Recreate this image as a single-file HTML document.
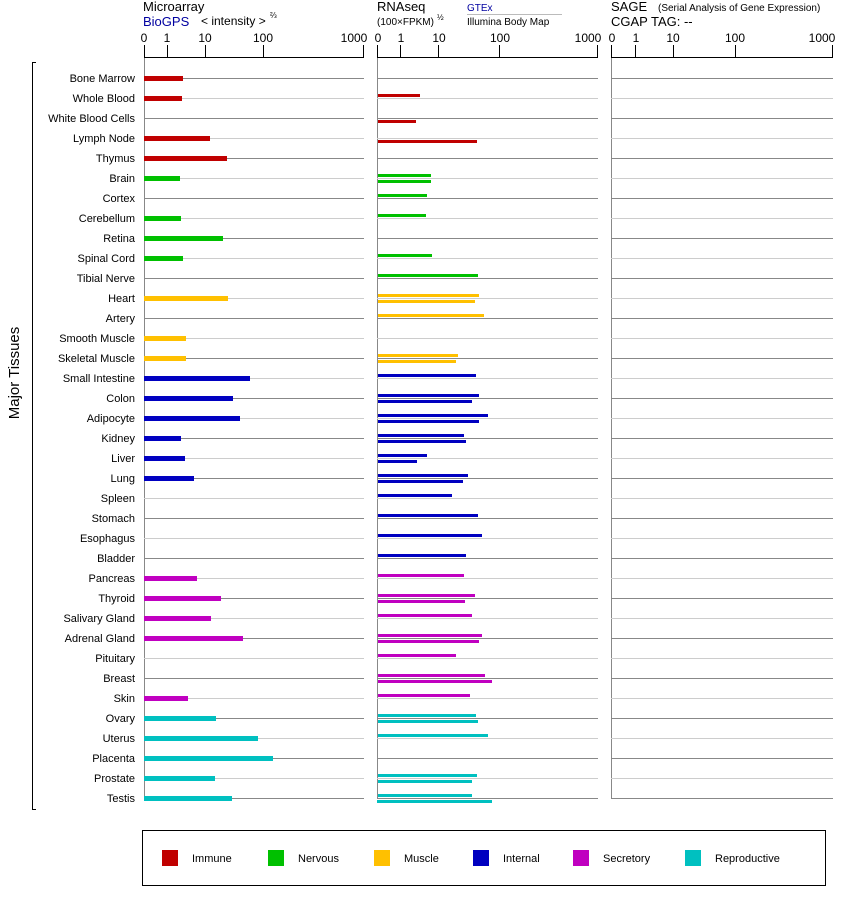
<!DOCTYPE html>
<html><head><meta charset="utf-8"><style>
body{margin:0;background:#fff}
svg{display:block;font-family:"Liberation Sans",sans-serif}
</style></head><body>
<svg width="842" height="900" viewBox="0 0 842 900" xmlns="http://www.w3.org/2000/svg">
<!-- headers -->
<g font-size="13" fill="#000">
<text x="143" y="11">Microarray</text>
<text x="143" y="26" fill="#0000a0">BioGPS</text>
<text x="201" y="25" font-size="12">&lt; intensity &gt;</text>
<text x="270" y="18" font-size="8">⅔</text>
<text x="377" y="11">RNAseq</text>
<text x="377" y="25" font-size="10">(100×FPKM)</text>
<text x="437" y="20" font-size="8">½</text>
<text x="467" y="11" font-size="10" fill="#0000a0">GTEx</text>
<line x1="467" y1="14.5" x2="562" y2="14.5" stroke="#bbb"/>
<text x="467" y="25" font-size="10">Illumina Body Map</text>
<text x="611" y="11">SAGE</text>
<text x="658" y="11" font-size="10">(Serial Analysis of Gene Expression)</text>
<text x="611" y="26">CGAP TAG:  --</text>
</g>
<!-- axes -->
<g font-size="12" text-anchor="middle" fill="#000">
<text x="144" y="42">0</text><text x="167" y="42">1</text><text x="205" y="42">10</text><text x="263" y="42">100</text><text x="354" y="42">1000</text>
<text x="378" y="42">0</text><text x="401" y="42">1</text><text x="439" y="42">10</text><text x="500" y="42">100</text><text x="588" y="42">1000</text>
<text x="612" y="42">0</text><text x="636" y="42">1</text><text x="673" y="42">10</text><text x="735" y="42">100</text><text x="822" y="42">1000</text>
</g>
<g stroke="#000" stroke-width="1">
<line x1="144" y1="57.5" x2="364" y2="57.5"/>
<line x1="144.5" y1="45" x2="144.5" y2="58"/><line x1="167.5" y1="45" x2="167.5" y2="58"/><line x1="205.5" y1="45" x2="205.5" y2="58"/><line x1="263.5" y1="45" x2="263.5" y2="58"/><line x1="363.5" y1="45" x2="363.5" y2="58"/>
<line x1="377" y1="57.5" x2="598" y2="57.5"/>
<line x1="377.5" y1="45" x2="377.5" y2="58"/><line x1="400.5" y1="45" x2="400.5" y2="58"/><line x1="438.5" y1="45" x2="438.5" y2="58"/><line x1="499.5" y1="45" x2="499.5" y2="58"/><line x1="597.5" y1="45" x2="597.5" y2="58"/>
<line x1="611" y1="57.5" x2="833" y2="57.5"/>
<line x1="611.5" y1="45" x2="611.5" y2="58"/><line x1="635.5" y1="45" x2="635.5" y2="58"/><line x1="673.5" y1="45" x2="673.5" y2="58"/><line x1="735.5" y1="45" x2="735.5" y2="58"/><line x1="832.5" y1="45" x2="832.5" y2="58"/>
</g>
<g stroke="#888"><line x1="144.5" y1="58" x2="144.5" y2="799"/><line x1="377.5" y1="58" x2="377.5" y2="799"/><line x1="611.5" y1="58" x2="611.5" y2="799"/></g>
<!-- row lines -->
<g id="rows">
<g stroke="#888"><line x1="144" y1="78.5" x2="364" y2="78.5"/><line x1="377" y1="78.5" x2="598" y2="78.5"/><line x1="611" y1="78.5" x2="833" y2="78.5"/></g>
</g>
<g stroke="#888">
<path d="M144 118.5H364M377 118.5H598M611 118.5H833 M144 158.5H364M377 158.5H598M611 158.5H833 M144 198.5H364M377 198.5H598M611 198.5H833 M144 238.5H364M377 238.5H598M611 238.5H833 M144 278.5H364M377 278.5H598M611 278.5H833 M144 318.5H364M377 318.5H598M611 318.5H833 M144 358.5H364M377 358.5H598M611 358.5H833 M144 398.5H364M377 398.5H598M611 398.5H833 M144 438.5H364M377 438.5H598M611 438.5H833 M144 478.5H364M377 478.5H598M611 478.5H833 M144 518.5H364M377 518.5H598M611 518.5H833 M144 558.5H364M377 558.5H598M611 558.5H833 M144 598.5H364M377 598.5H598M611 598.5H833 M144 638.5H364M377 638.5H598M611 638.5H833 M144 678.5H364M377 678.5H598M611 678.5H833 M144 718.5H364M377 718.5H598M611 718.5H833 M144 758.5H364M377 758.5H598M611 758.5H833 M144 798.5H364M377 798.5H598M611 798.5H833"/>
</g>
<g stroke="#ccc">
<path d="M144 98.5H364M377 98.5H598M611 98.5H833 M144 138.5H364M377 138.5H598M611 138.5H833 M144 178.5H364M377 178.5H598M611 178.5H833 M144 218.5H364M377 218.5H598M611 218.5H833 M144 258.5H364M377 258.5H598M611 258.5H833 M144 298.5H364M377 298.5H598M611 298.5H833 M144 338.5H364M377 338.5H598M611 338.5H833 M144 378.5H364M377 378.5H598M611 378.5H833 M144 418.5H364M377 418.5H598M611 418.5H833 M144 458.5H364M377 458.5H598M611 458.5H833 M144 498.5H364M377 498.5H598M611 498.5H833 M144 538.5H364M377 538.5H598M611 538.5H833 M144 578.5H364M377 578.5H598M611 578.5H833 M144 618.5H364M377 618.5H598M611 618.5H833 M144 658.5H364M377 658.5H598M611 658.5H833 M144 698.5H364M377 698.5H598M611 698.5H833 M144 738.5H364M377 738.5H598M611 738.5H833 M144 778.5H364M377 778.5H598M611 778.5H833"/>
</g>
<!-- labels -->
<g font-size="11" text-anchor="end" fill="#000">
<text x="135" y="82">Bone Marrow</text><text x="135" y="102">Whole Blood</text><text x="135" y="122">White Blood Cells</text><text x="135" y="142">Lymph Node</text><text x="135" y="162">Thymus</text><text x="135" y="182">Brain</text><text x="135" y="202">Cortex</text><text x="135" y="222">Cerebellum</text><text x="135" y="242">Retina</text><text x="135" y="262">Spinal Cord</text><text x="135" y="282">Tibial Nerve</text><text x="135" y="302">Heart</text><text x="135" y="322">Artery</text><text x="135" y="342">Smooth Muscle</text><text x="135" y="362">Skeletal Muscle</text><text x="135" y="382">Small Intestine</text><text x="135" y="402">Colon</text><text x="135" y="422">Adipocyte</text><text x="135" y="442">Kidney</text><text x="135" y="462">Liver</text><text x="135" y="482">Lung</text><text x="135" y="502">Spleen</text><text x="135" y="522">Stomach</text><text x="135" y="542">Esophagus</text><text x="135" y="562">Bladder</text><text x="135" y="582">Pancreas</text><text x="135" y="602">Thyroid</text><text x="135" y="622">Salivary Gland</text><text x="135" y="642">Adrenal Gland</text><text x="135" y="662">Pituitary</text><text x="135" y="682">Breast</text><text x="135" y="702">Skin</text><text x="135" y="722">Ovary</text><text x="135" y="742">Uterus</text><text x="135" y="762">Placenta</text><text x="135" y="782">Prostate</text><text x="135" y="802">Testis</text>
</g>
<path d="M36 62.5H32.5V809.5H36" fill="none" stroke="#000"/>
<text x="19" y="373" font-size="15" text-anchor="middle" transform="rotate(-90 19 373)">Major Tissues</text>
<!-- microarray bars -->
<g>
<g fill="#c00000"><rect x="144" y="76" width="39" height="5"/><rect x="144" y="96" width="38" height="5"/><rect x="144" y="136" width="66" height="5"/><rect x="144" y="156" width="83" height="5"/></g>
<g fill="#00c000"><rect x="144" y="176" width="36" height="5"/><rect x="144" y="216" width="37" height="5"/><rect x="144" y="236" width="79" height="5"/><rect x="144" y="256" width="39" height="5"/></g>
<g fill="#ffc000"><rect x="144" y="296" width="84" height="5"/><rect x="144" y="336" width="42" height="5"/><rect x="144" y="356" width="42" height="5"/></g>
<g fill="#0000c0"><rect x="144" y="376" width="106" height="5"/><rect x="144" y="396" width="89" height="5"/><rect x="144" y="416" width="96" height="5"/><rect x="144" y="436" width="37" height="5"/><rect x="144" y="456" width="41" height="5"/><rect x="144" y="476" width="50" height="5"/></g>
<g fill="#c000c0"><rect x="144" y="576" width="53" height="5"/><rect x="144" y="596" width="77" height="5"/><rect x="144" y="616" width="67" height="5"/><rect x="144" y="636" width="99" height="5"/><rect x="144" y="696" width="44" height="5"/></g>
<g fill="#00c0c0"><rect x="144" y="716" width="72" height="5"/><rect x="144" y="736" width="114" height="5"/><rect x="144" y="756" width="129" height="5"/><rect x="144" y="776" width="71" height="5"/><rect x="144" y="796" width="88" height="5"/></g>
</g>
<!-- rnaseq bars -->
<g>
<g fill="#c00000"><rect x="378" y="94" width="42" height="3"/><rect x="378" y="120" width="38" height="3"/><rect x="378" y="140" width="99" height="3"/></g>
<g fill="#00c000"><rect x="378" y="174" width="53" height="3"/><rect x="378" y="180" width="53" height="3"/><rect x="378" y="194" width="49" height="3"/><rect x="378" y="214" width="48" height="3"/><rect x="378" y="254" width="54" height="3"/><rect x="378" y="274" width="100" height="3"/></g>
<g fill="#ffc000"><rect x="378" y="294" width="101" height="3"/><rect x="378" y="300" width="97" height="3"/><rect x="378" y="314" width="106" height="3"/><rect x="378" y="354" width="80" height="3"/><rect x="378" y="360" width="78" height="3"/></g>
<g fill="#0000c0"><rect x="378" y="374" width="98" height="3"/><rect x="378" y="394" width="101" height="3"/><rect x="378" y="400" width="94" height="3"/><rect x="378" y="414" width="110" height="3"/><rect x="378" y="420" width="101" height="3"/><rect x="378" y="434" width="86" height="3"/><rect x="378" y="440" width="88" height="3"/><rect x="378" y="454" width="49" height="3"/><rect x="378" y="460" width="39" height="3"/><rect x="378" y="474" width="90" height="3"/><rect x="378" y="480" width="85" height="3"/><rect x="378" y="494" width="74" height="3"/><rect x="378" y="514" width="100" height="3"/><rect x="378" y="534" width="104" height="3"/><rect x="378" y="554" width="88" height="3"/></g>
<g fill="#c000c0"><rect x="378" y="574" width="86" height="3"/><rect x="378" y="594" width="97" height="3"/><rect x="378" y="600" width="87" height="3"/><rect x="378" y="614" width="94" height="3"/><rect x="378" y="634" width="104" height="3"/><rect x="378" y="640" width="101" height="3"/><rect x="378" y="654" width="78" height="3"/><rect x="378" y="674" width="107" height="3"/><rect x="378" y="680" width="114" height="3"/><rect x="378" y="694" width="92" height="3"/></g>
<g fill="#00c0c0"><rect x="378" y="714" width="98" height="3"/><rect x="378" y="720" width="100" height="3"/><rect x="378" y="734" width="110" height="3"/><rect x="378" y="774" width="99" height="3"/><rect x="378" y="780" width="94" height="3"/><rect x="378" y="794" width="94" height="3"/><rect x="377" y="800" width="115" height="3"/></g>
</g>
<!-- legend -->
<rect x="142.5" y="830.5" width="683" height="55" fill="none" stroke="#000"/>
<g font-size="11" fill="#000">
<rect x="162" y="850" width="16" height="16" fill="#c00000"/><text x="192" y="862">Immune</text>
<rect x="268" y="850" width="16" height="16" fill="#00c000"/><text x="298" y="862">Nervous</text>
<rect x="374" y="850" width="16" height="16" fill="#ffc000"/><text x="404" y="862">Muscle</text>
<rect x="473" y="850" width="16" height="16" fill="#0000c0"/><text x="503" y="862">Internal</text>
<rect x="573" y="850" width="16" height="16" fill="#c000c0"/><text x="603" y="862">Secretory</text>
<rect x="685" y="850" width="16" height="16" fill="#00c0c0"/><text x="715" y="862">Reproductive</text>
</g>
</svg>
</body></html>
